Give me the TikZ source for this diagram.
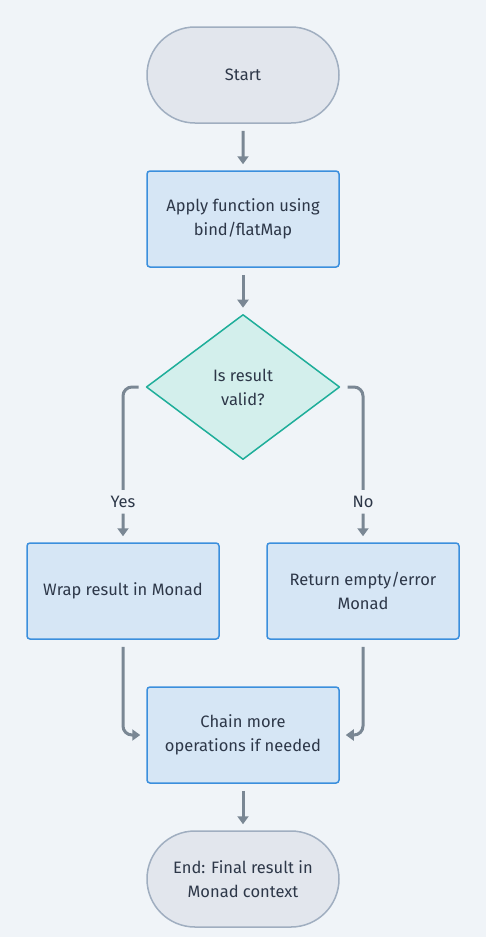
\documentclass[tikz,border=0pt]{standalone}
\usepackage{fontspec}
\setmainfont{Fira Sans}
\usetikzlibrary{shapes.geometric,shapes.misc,arrows.meta}
\definecolor{bg}{HTML}{F0F4F8}
\definecolor{termfill}{HTML}{E2E6ED}
\definecolor{termdraw}{HTML}{A0AEC0}
\definecolor{procfill}{HTML}{D6E6F5}
\definecolor{procdraw}{HTML}{3B8FDD}
\definecolor{decfill}{HTML}{D3EFEC}
\definecolor{decdraw}{HTML}{1FAE9A}
\definecolor{edge}{HTML}{7A8794}
\definecolor{txt}{HTML}{2D3748}
\tikzset{
  base/.style={font=\fontsize{16.5}{24}\selectfont, text=txt, align=center, line width=1.5pt},
  term/.style={base, rounded rectangle, fill=termfill, draw=termdraw, minimum width=192pt, minimum height=96pt, inner sep=0pt},
  proc/.style={base, rectangle, rounded corners=3pt, fill=procfill, draw=procdraw, minimum width=192pt, minimum height=96pt, inner sep=0pt},
  dec/.style={base, diamond, fill=decfill, draw=decdraw, minimum width=193.5pt, minimum height=145pt, inner sep=0pt, line join=round},
  conn/.style={draw=edge, line width=3pt, -{Triangle[width=11pt,length=8pt]}, shorten <=7pt, shorten >=6pt, rounded corners=9pt},
  lab/.style={font=\fontsize{16.5}{18}\selectfont, text=txt, fill=bg, inner xsep=2pt, inner ysep=6pt},
}
\begin{document}
\begin{tikzpicture}[x=1pt,y=-1pt]
\fill[bg] (0,0) rectangle (486,937);
\useasboundingbox (0,0) rectangle (486,937);
\node[term] (start) at (243,75) {Start};
\node[proc] (apply) at (243,219) {Apply function using\\bind/flatMap};
\node[dec] (valid) at (243,387) {Is result\\valid?};
\node[proc] (wrap) at (123,591) {Wrap result in Monad};
\node[proc] (ret) at (363,591) {Return empty/error\\Monad};
\node[proc] (chain) at (243,735) {Chain more\\operations if needed};
\node[term] (end) at (243,879) {End: Final result in\\Monad context};
\draw[conn] (start) -- (apply);
\draw[conn] (apply) -- (valid);
\draw[conn] (valid.west) -| node[lab, pos=0.87] {Yes} (wrap.north);
\draw[conn] (valid.east) -| node[lab, pos=0.87] {No} (ret.north);
\draw[conn] (wrap.south) |- (chain.west);
\draw[conn] (ret.south) |- (chain.east);
\draw[conn] (chain) -- (end);
\end{tikzpicture}
\end{document}
